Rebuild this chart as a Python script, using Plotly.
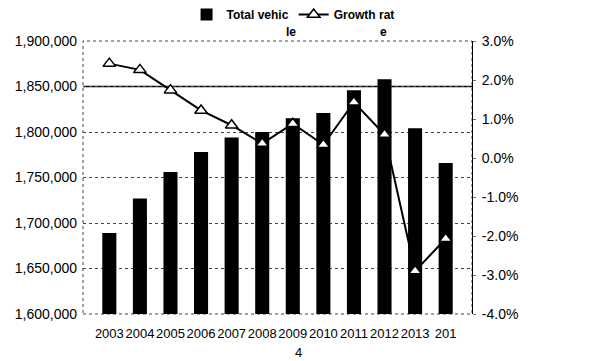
import plotly.graph_objects as go

# Registered vehicles and year-on-year growth, 2003-2014
years = ["2003", "2004", "2005", "2006", "2007", "2008",
         "2009", "2010", "2011", "2012", "2013", "2014"]
year_labels = ["2003", "2004", "2005", "2006", "2007", "2008",
               "2009", "2010", "2011", "2012", "2013", "201"]
total_vehicles = [1689000, 1727000, 1756000, 1778000, 1794000, 1800000,
                  1815000, 1821000, 1846000, 1858000, 1804000, 1766000]
growth_rate = [2.42, 2.26, 1.74, 1.22, 0.84, 0.37,
               0.88, 0.34, 1.43, 0.60, -2.90, -2.07]

left_ticks = [1600000, 1650000, 1700000, 1750000, 1800000, 1850000, 1900000]
right_tickvals = [-4, -3, -2, -1, 0, 1, 2, 3]
right_ticktext = ["-4.0%", "-3.0%", "-2.0%", "-1.0%", "0.0%", "1.0%", "2.0%", "3.0%"]

FONT = "Liberation Sans, Arial, sans-serif"

fig = go.Figure()
fig.add_trace(go.Bar(
    x=years, y=total_vehicles, name="Total vehic",
    marker=dict(color="black", line=dict(width=0)),
))
fig.add_trace(go.Scatter(
    x=years, y=growth_rate, name="Growth rat", yaxis="y2",
    mode="lines+markers",
    line=dict(color="black", width=2),
    marker=dict(symbol="triangle-up", size=11, color="white",
                line=dict(color="black", width=1.5)),
))

fig.update_layout(
    width=610, height=361,
    margin=dict(l=83, r=138, t=41, b=47, autoexpand=False),
    paper_bgcolor="white", plot_bgcolor="white",
    font=dict(family=FONT, color="black"),
    bargap=0.54,
    showlegend=True,
    legend=dict(orientation="h", x=0.54, xanchor="center", y=1.15, yanchor="top",
                font=dict(size=12, family=FONT, weight="bold"),
                itemwidth=30, tracegroupgap=0, bgcolor="rgba(0,0,0,0)"),
    xaxis=dict(
        type="category", tickvals=years, ticktext=year_labels,
        tickfont=dict(size=13), tickangle=0, showgrid=False, showline=False,
        ticks="", ticklabelstandoff=10,
    ),
    yaxis=dict(
        range=[1600000, 1900000], tickvals=left_ticks, tickformat=",d",
        tickfont=dict(size=14), showgrid=True, gridcolor="#444",
        griddash="dot", gridwidth=1, showline=False, zeroline=False,
        ticks="", ticklabelstandoff=5,
    ),
    yaxis2=dict(
        range=[-4, 3], overlaying="y", side="right",
        tickvals=right_tickvals, ticktext=right_ticktext,
        tickfont=dict(size=14), showgrid=False, zeroline=False,
        showline=True, linecolor="black", linewidth=1,
        ticks="outside", ticklen=3, tickcolor="#777",
        ticklabelstandoff=3,
    ),
    shapes=[
        # dotted plot frame
        dict(type="rect", xref="x domain", yref="y domain", x0=0, x1=1, y0=0, y1=1,
             line=dict(color="#444", width=1, dash="dot"), layer="below"),
        # solid reference line at 1,850,000
        dict(type="line", xref="x domain", yref="y", x0=0, x1=1,
             y0=left_ticks[5], y1=left_ticks[5],
             line=dict(color="black", width=1.3), layer="below"),
    ],
    annotations=[
        dict(text="le", xref="paper", yref="paper", x=0.535, y=1.033,
             yanchor="middle", showarrow=False, font=dict(size=12, weight="bold")),
        dict(text="e", xref="paper", yref="paper", x=0.787, y=1.033,
             yanchor="middle", showarrow=False, font=dict(size=12, weight="bold")),
        dict(text="4", xref="paper", yref="paper", x=0.555, y=-0.14,
             yanchor="middle", showarrow=False, font=dict(size=13)),
    ],
)

fig.write_html("out.html")
